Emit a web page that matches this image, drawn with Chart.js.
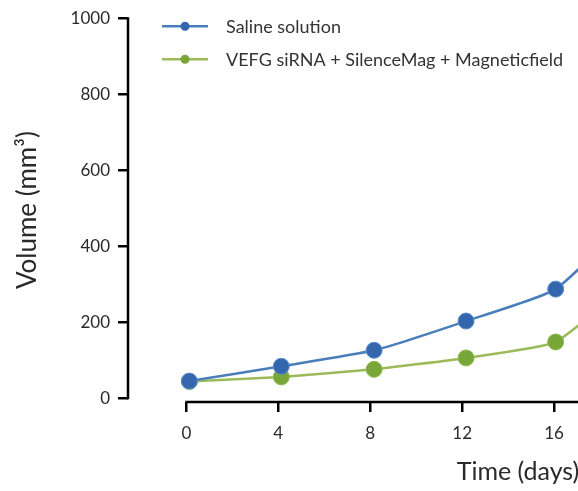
<!DOCTYPE html>
<html>
  <head>
    <title>Tumour volume</title>
    <script src="https://cdn.jsdelivr.net/npm/chart.js"></script>
    <style>
      html,
      body {
        margin: 0;
        padding: 0;
        overflow: hidden;
        background: #fff;
      }
      #wrap {
        width: 917px;
        height: 491px;
      }
    </style>
  </head>
  <body>
    <div id="wrap"><canvas id="volumeChart"></canvas></div>
    <script>
      // data (days, mm3)
      const seriesNames = [
        "Saline solution",
        "VEFG siRNA + SilenceMag + Magneticfield",
      ];
      const days = [0.13, 4.13, 8.17, 12.17, 16.07, 20.1];
      const salineVolume = [45, 84, 126, 203, 287, 520];
      const treatedVolume = [44, 56, 76, 106, 148, 345];
      const xTicks = [0, 4, 8, 12, 16, 20, 24, 28];
      const yTicks = [0, 200, 400, 600, 800, 1000];

      const lineColors = ["#4a7ebb", "#9bbb59"];
      const markerColors = ["#3466ad", "#79a638"];
      const fontFamily = "Lato, 'Open Sans', sans-serif";

      const toPoints = (xs, ys) => xs.map((x, i) => ({ x: x, y: ys[i] }));

      // axis lines drawn off the scales, Prism style (detached)
      const axisLines = {
        id: "axisLines",
        beforeDatasetsDraw(chart) {
          const { ctx, scales, chartArea } = chart;
          ctx.save();
          ctx.strokeStyle = "#000";
          ctx.lineWidth = 2.5;
          ctx.beginPath();
          const yl = chartArea.left;
          ctx.moveTo(yl, scales.y.getPixelForValue(yTicks[yTicks.length - 1]) - 1);
          ctx.lineTo(yl, scales.y.getPixelForValue(0) + 1);
          const xb = chartArea.bottom;
          ctx.moveTo(scales.x.getPixelForValue(0) - 1, xb);
          ctx.lineTo(chartArea.right, xb);
          ctx.stroke();
          ctx.restore();
        },
      };

      // legend: line with a dot, inside the plot at top left
      const lineLegend = {
        id: "lineLegend",
        afterDraw(chart) {
          const { ctx, chartArea } = chart;
          ctx.save();
          chart.data.datasets.forEach((ds, i) => {
            const y = chartArea.top + 8 + i * 33;
            const x0 = chartArea.left + 34;
            ctx.strokeStyle = lineColors[i];
            ctx.lineWidth = 2.5;
            ctx.beginPath();
            ctx.moveTo(x0, y);
            ctx.lineTo(x0 + 46, y);
            ctx.stroke();
            ctx.fillStyle = markerColors[i];
            ctx.beginPath();
            ctx.arc(x0 + 23, y, 4.5, 0, Math.PI * 2);
            ctx.fill();
            ctx.fillStyle = "#333";
            ctx.font = "18px " + fontFamily;
            ctx.textBaseline = "middle";
            ctx.fillText(ds.label, x0 + 64, y + 1);
          });
          ctx.restore();
        },
      };

      new Chart(document.getElementById("volumeChart"), {
        type: "line",
        data: {
          datasets: [
            {
              label: seriesNames[0],
              data: toPoints(days, salineVolume),
              borderColor: lineColors[0],
              backgroundColor: markerColors[0],
              pointBackgroundColor: markerColors[0],
              pointBorderColor: "#5b8fd0",
              pointBorderWidth: 1,
              pointRadius: 8,
              borderWidth: 2.5,
              tension: 0.15,
            },
            {
              label: seriesNames[1],
              data: toPoints(days, treatedVolume),
              borderColor: lineColors[1],
              backgroundColor: markerColors[1],
              pointBackgroundColor: markerColors[1],
              pointBorderColor: "#8fbc4c",
              pointBorderWidth: 1,
              pointRadius: 8,
              borderWidth: 2.5,
              tension: 0.15,
            },
          ],
        },
        options: {
          responsive: true,
          maintainAspectRatio: false,
          animation: false,
          layout: { padding: { top: 18, left: 0, right: 0, bottom: 0 } },
          plugins: {
            legend: { display: false },
            tooltip: { enabled: false },
          },
          scales: {
            x: {
              type: "linear",
              min: -2.54,
              max: 31.4,
              afterBuildTicks: (scale) => {
                scale.ticks = xTicks.map((v) => ({ value: v }));
              },
              afterFit: (scale) => {
                scale.height = 89;
              },
              border: { display: false },
              grid: {
                drawOnChartArea: false,
                color: "#000",
                lineWidth: 2.5,
                tickLength: 10,
              },
              ticks: {
                color: "#2a2a2a",
                padding: 11,
                maxRotation: 0,
                callback: (v) => String(v),
                font: { family: fontFamily, size: 17 },
              },
              title: {
                display: true,
                text: "Time (days)",
                color: "#2a2a2a",
                padding: { top: 10 },
                font: { family: fontFamily, size: 25 },
              },
            },
            y: {
              min: -10,
              max: 1000,
              afterBuildTicks: (scale) => {
                scale.ticks = yTicks.map((v) => ({ value: v }));
              },
              afterFit: (scale) => {
                scale.width = 128;
              },
              border: { display: false },
              grid: {
                drawOnChartArea: false,
                color: "#000",
                lineWidth: 2.5,
                tickLength: 10,
              },
              ticks: {
                color: "#2a2a2a",
                padding: 8,
                callback: (v) => String(v),
                font: { family: fontFamily, size: 17 },
              },
              title: {
                display: true,
                text: "Volume (mm³)",
                color: "#2a2a2a",
                padding: { top: 12, bottom: 0 },
                font: { family: fontFamily, size: 26 },
              },
            },
          },
        },
        plugins: [axisLines, lineLegend],
      });
    </script>
  </body>
</html>
